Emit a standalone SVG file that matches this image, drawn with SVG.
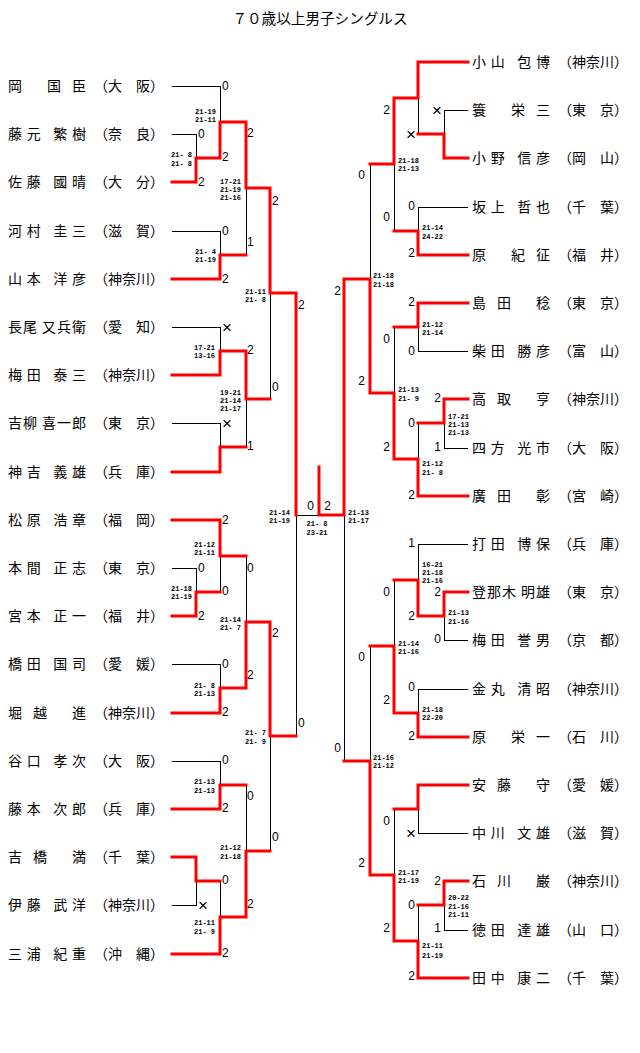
<svg xmlns="http://www.w3.org/2000/svg" width="640" height="1053" viewBox="0 0 640 1053">
<style>
.t{font-family:"Noto Sans CJK JP","Noto Sans CJK SC",sans-serif;font-size:14.6px;fill:#000}
.n{font-family:"Noto Sans CJK JP","Noto Sans CJK SC",sans-serif;font-size:14px;fill:#000}
.s{font-family:"Liberation Mono",monospace;font-size:7px;font-weight:bold;fill:#000}
.sl{text-anchor:end}
.g{font-family:"Liberation Sans",sans-serif;font-size:12px;fill:#000}
.ge{text-anchor:end}
.gm{text-anchor:middle}
.x{font-size:17px}
.b{stroke:#000;stroke-width:1;fill:none;shape-rendering:crispEdges}
.r{stroke:#ff0000;stroke-width:3;fill:none;stroke-linejoin:miter;stroke-linecap:square}
</style>
<rect width="640" height="1053" fill="#fff"/>
<text class="t" x="320" y="24" text-anchor="middle">７０歳以上男子シングルス</text>

<g id="connectors">
<g id="black-lines">
<path class="b" d="M172 86H220V122 M172 134H196V158 M172 231H220V255 M246 188V255 M172 327H220V351 M172 423H220V447 M246 399V447 M270 293V399 M172 568H196V592 M220 556V592 M172 664H220V688 M246 556V622 M172 761H220V785 M172 905H196V881 M220 881V917 M246 785V851 M270 736V851 M296 515V736 M296 515H344 M344 515V761"/>
<path class="b" d="M468 110H444V134 M418 98V134 M468 207H418V231 M394 164V231 M370 164V279 M468 351H418V327 M468 448H444V423 M418 423V459 M394 327V393 M468 544H418V580 M468 640H444V616 M468 689H418V713 M394 580V646 M370 646V761 M468 833H418V809 M468 930H444V905 M418 905V941 M394 809V875"/>
</g>
<g id="red-lines">
<path class="r" d="M172 182H196V158H220V122H246V188H270V293H296V515"/>
<path class="r" d="M172 279H220V255H246"/>
<path class="r" d="M172 375H220V351H246V399H270"/>
<path class="r" d="M172 472H220V447H246"/>
<path class="r" d="M172 520H220V556H246"/>
<path class="r" d="M172 616H196V592H220"/>
<path class="r" d="M172 713H220V688H246V622H270V736H296"/>
<path class="r" d="M172 809H220V785H246"/>
<path class="r" d="M172 857H196V881H220"/>
<path class="r" d="M172 954H220V917H246V851H270"/>
<path class="r" d="M468 62H418V98H394V164H370"/>
<path class="r" d="M468 158H444V134H418"/>
<path class="r" d="M468 255H418V231H394"/>
<path class="r" d="M468 303H418V327H394"/>
<path class="r" d="M468 399H444V423H418"/>
<path class="r" d="M468 496H418V459H394V393H370V279H344V515H319V467"/>
<path class="r" d="M468 592H444V616H418V580H394"/>
<path class="r" d="M468 737H418V713H394V646H370"/>
<path class="r" d="M468 785H418V809H394"/>
<path class="r" d="M468 881H444V905H418"/>
<path class="r" d="M468 978H418V941H394V875H370V761H344"/>
</g>
<g id="game-counts">
<text class="g" x="222" y="90">0</text>
<text class="g" x="198" y="138">0</text>
<text class="g" x="198" y="186">2</text>
<text class="g" x="222" y="161">2</text>
<text class="g" x="247" y="137">2</text>
<text class="g" x="222" y="235">0</text>
<text class="g" x="222" y="283">2</text>
<text class="g" x="247" y="246">1</text>
<text class="g" x="272" y="205">2</text>
<text class="g x" x="222" y="333">×</text>
<text class="g" x="247" y="354">2</text>
<text class="g x" x="222" y="429">×</text>
<text class="g" x="247" y="450">1</text>
<text class="g" x="272" y="391">0</text>
<text class="g" x="298" y="309">2</text>
<text class="g" x="222" y="524">2</text>
<text class="g" x="198" y="572">0</text>
<text class="g" x="198" y="620">2</text>
<text class="g" x="222" y="595">0</text>
<text class="g" x="247" y="572">0</text>
<text class="g" x="222" y="668">0</text>
<text class="g" x="222" y="716">2</text>
<text class="g" x="247" y="679">2</text>
<text class="g" x="272" y="637">2</text>
<text class="g" x="298" y="727">0</text>
<text class="g" x="222" y="764">0</text>
<text class="g" x="222" y="812">2</text>
<text class="g" x="247" y="800">0</text>
<text class="g" x="272" y="841">0</text>
<text class="g" x="222" y="884">0</text>
<text class="g x" x="198" y="911">×</text>
<text class="g" x="222" y="957">2</text>
<text class="g" x="247" y="908">2</text>
<text class="g gm" x="310.5" y="510">0</text>
<text class="g gm" x="327.5" y="510">2</text>
<text class="g ge x" x="442" y="116">×</text>
<text class="g ge x" x="416" y="140">×</text>
<text class="g ge" x="390" y="114">2</text>
<text class="g ge" x="415" y="210">0</text>
<text class="g ge" x="415" y="257">2</text>
<text class="g ge" x="390" y="221">0</text>
<text class="g ge" x="365" y="179">0</text>
<text class="g ge" x="415" y="306">2</text>
<text class="g ge" x="415" y="355">0</text>
<text class="g ge" x="390" y="343">0</text>
<text class="g ge" x="441" y="402">2</text>
<text class="g ge" x="441" y="451">1</text>
<text class="g ge" x="415" y="427">0</text>
<text class="g ge" x="415" y="499">2</text>
<text class="g ge" x="390" y="451">2</text>
<text class="g ge" x="365" y="385">2</text>
<text class="g ge" x="341" y="295">2</text>
<text class="g ge" x="415" y="547">1</text>
<text class="g ge" x="441" y="596">2</text>
<text class="g ge" x="441" y="643">0</text>
<text class="g ge" x="415" y="620">2</text>
<text class="g ge" x="390" y="596">0</text>
<text class="g ge" x="415" y="691">0</text>
<text class="g ge" x="415" y="740">2</text>
<text class="g ge" x="390" y="704">2</text>
<text class="g ge" x="365" y="661">0</text>
<text class="g ge" x="341" y="752">0</text>
<text class="g ge" x="390" y="825">0</text>
<text class="g ge x" x="416" y="839">×</text>
<text class="g ge" x="441" y="885">2</text>
<text class="g ge" x="441" y="932">1</text>
<text class="g ge" x="415" y="909">0</text>
<text class="g ge" x="415" y="980">2</text>
<text class="g ge" x="390" y="932">2</text>
<text class="g ge" x="365" y="867">2</text>
</g>
<g id="scores">
<text class="s sl" x="192" y="156.5">21- 8</text><text class="s sl" x="192" y="165.5">21- 8</text>
<text class="s sl" x="216" y="113.5">21-19</text><text class="s sl" x="216" y="121.5">21-11</text>
<text class="s sl" x="216" y="253.5">21- 4</text><text class="s sl" x="216" y="261.5">21-19</text>
<text class="s sl" x="241" y="183.5">17-21</text><text class="s sl" x="241" y="191.5">21-19</text><text class="s sl" x="241" y="199.5">21-16</text>
<text class="s sl" x="266" y="293.5">21-11</text><text class="s sl" x="266" y="301.5">21- 8</text>
<text class="s sl" x="215" y="349.5">17-21</text><text class="s sl" x="215" y="358">13-16</text>
<text class="s sl" x="241" y="394.5">19-21</text><text class="s sl" x="241" y="402.5">21-14</text><text class="s sl" x="241" y="410.5">21-17</text>
<text class="s sl" x="290" y="514.5">21-14</text><text class="s sl" x="290" y="522.5">21-19</text>
<text class="s sl" x="215" y="546.5">21-12</text><text class="s sl" x="215" y="554.5">21-11</text>
<text class="s sl" x="192" y="590.5">21-18</text><text class="s sl" x="192" y="599">21-19</text>
<text class="s sl" x="215" y="687.5">21- 8</text><text class="s sl" x="215" y="695.5">21-13</text>
<text class="s sl" x="241" y="621.5">21-14</text><text class="s sl" x="241" y="629.5">21- 7</text>
<text class="s sl" x="266" y="734.5">21- 7</text><text class="s sl" x="266" y="743.5">21- 9</text>
<text class="s sl" x="215" y="783.5">21-13</text><text class="s sl" x="215" y="792.5">21-13</text>
<text class="s sl" x="241" y="849.5">21-12</text><text class="s sl" x="241" y="858.5">21-18</text>
<text class="s sl" x="215" y="924.5">21-11</text><text class="s sl" x="215" y="933.5">21- 9</text>
<text class="s" x="317" y="525.5" text-anchor="middle">21- 8</text><text class="s" x="317" y="534.5" text-anchor="middle">23-21</text>
<text class="s" x="398" y="162.5">21-18</text><text class="s" x="398" y="170.5">21-13</text>
<text class="s" x="422" y="229.5">21-14</text><text class="s" x="422" y="238.5">24-22</text>
<text class="s" x="373" y="277.5">21-18</text><text class="s" x="373" y="286.5">21-18</text>
<text class="s" x="422" y="326.5">21-12</text><text class="s" x="422" y="334.5">21-14</text>
<text class="s" x="398" y="391.5">21-13</text><text class="s" x="398" y="400.5">21- 9</text>
<text class="s" x="448" y="418.5">17-21</text><text class="s" x="448" y="426.5">21-13</text><text class="s" x="448" y="434.5">21-13</text>
<text class="s" x="422" y="465.5">21-12</text><text class="s" x="422" y="474.5">21- 8</text>
<text class="s" x="348" y="514.5">21-13</text><text class="s" x="348" y="522.5">21-17</text>
<text class="s" x="422" y="566.5">16-21</text><text class="s" x="422" y="574.5">21-18</text><text class="s" x="422" y="583">21-16</text>
<text class="s" x="448" y="614.5">21-13</text><text class="s" x="448" y="623.5">21-16</text>
<text class="s" x="398" y="645.5">21-14</text><text class="s" x="398" y="653.5">21-16</text>
<text class="s" x="422" y="711.5">21-18</text><text class="s" x="422" y="719.5">22-20</text>
<text class="s" x="373" y="759.5">21-16</text><text class="s" x="373" y="768">21-12</text>
<text class="s" x="398" y="874.5">21-17</text><text class="s" x="398" y="882.5">21-19</text>
<text class="s" x="448" y="900">20-22</text><text class="s" x="448" y="908.5">21-16</text><text class="s" x="448" y="916.5">21-11</text>
<text class="s" x="422" y="948">21-11</text><text class="s" x="422" y="957.5">21-19</text>
</g>
</g>

<g id="players-left">
<g id="L0"><text class="n" x="8" y="91" textLength="78" lengthAdjust="spacing">岡 国臣</text><text class="n" x="94" y="91">（大　阪）</text></g>
<g id="L1"><text class="n" x="8" y="139" textLength="78" lengthAdjust="spacing">藤元 繁樹</text><text class="n" x="94" y="139">（奈　良）</text></g>
<g id="L2"><text class="n" x="8" y="187" textLength="78" lengthAdjust="spacing">佐藤 國晴</text><text class="n" x="94" y="187">（大　分）</text></g>
<g id="L3"><text class="n" x="8" y="236" textLength="78" lengthAdjust="spacing">河村 圭三</text><text class="n" x="94" y="236">（滋　賀）</text></g>
<g id="L4"><text class="n" x="8" y="284" textLength="78" lengthAdjust="spacing">山本 洋彦</text><text class="n" x="94" y="284">（神奈川）</text></g>
<g id="L5"><text class="n" x="8" y="332" textLength="78" lengthAdjust="spacing">長尾 又兵衛</text><text class="n" x="94" y="332">（愛　知）</text></g>
<g id="L6"><text class="n" x="8" y="380" textLength="78" lengthAdjust="spacing">梅田 泰三</text><text class="n" x="94" y="380">（神奈川）</text></g>
<g id="L7"><text class="n" x="8" y="428" textLength="78" lengthAdjust="spacing">吉柳 喜一郎</text><text class="n" x="94" y="428">（東　京）</text></g>
<g id="L8"><text class="n" x="8" y="477" textLength="78" lengthAdjust="spacing">神吉 義雄</text><text class="n" x="94" y="477">（兵　庫）</text></g>
<g id="L9"><text class="n" x="8" y="525" textLength="78" lengthAdjust="spacing">松原 浩章</text><text class="n" x="94" y="525">（福　岡）</text></g>
<g id="L10"><text class="n" x="8" y="573" textLength="78" lengthAdjust="spacing">本間 正志</text><text class="n" x="94" y="573">（東　京）</text></g>
<g id="L11"><text class="n" x="8" y="621" textLength="78" lengthAdjust="spacing">宮本 正一</text><text class="n" x="94" y="621">（福　井）</text></g>
<g id="L12"><text class="n" x="8" y="669" textLength="78" lengthAdjust="spacing">橋田 国司</text><text class="n" x="94" y="669">（愛　媛）</text></g>
<g id="L13"><text class="n" x="8" y="718" textLength="78" lengthAdjust="spacing">堀越 進</text><text class="n" x="94" y="718">（神奈川）</text></g>
<g id="L14"><text class="n" x="8" y="766" textLength="78" lengthAdjust="spacing">谷口 孝次</text><text class="n" x="94" y="766">（大　阪）</text></g>
<g id="L15"><text class="n" x="8" y="814" textLength="78" lengthAdjust="spacing">藤本 次郎</text><text class="n" x="94" y="814">（兵　庫）</text></g>
<g id="L16"><text class="n" x="8" y="862" textLength="78" lengthAdjust="spacing">吉橋 満</text><text class="n" x="94" y="862">（千　葉）</text></g>
<g id="L17"><text class="n" x="8" y="910" textLength="78" lengthAdjust="spacing">伊藤 武洋</text><text class="n" x="94" y="910">（神奈川）</text></g>
<g id="L18"><text class="n" x="8" y="959" textLength="78" lengthAdjust="spacing">三浦 紀重</text><text class="n" x="94" y="959">（沖　縄）</text></g>
</g>

<g id="players-right">
<g id="R0"><text class="n" x="472" y="67" textLength="78" lengthAdjust="spacing">小山 包博</text><text class="n" x="558" y="67">（神奈川）</text></g>
<g id="R1"><text class="n" x="472" y="115" textLength="78" lengthAdjust="spacing">簑 栄三</text><text class="n" x="558" y="115">（東　京）</text></g>
<g id="R2"><text class="n" x="472" y="163" textLength="78" lengthAdjust="spacing">小野 信彦</text><text class="n" x="558" y="163">（岡　山）</text></g>
<g id="R3"><text class="n" x="472" y="212" textLength="78" lengthAdjust="spacing">坂上 哲也</text><text class="n" x="558" y="212">（千　葉）</text></g>
<g id="R4"><text class="n" x="472" y="260" textLength="78" lengthAdjust="spacing">原 紀征</text><text class="n" x="558" y="260">（福　井）</text></g>
<g id="R5"><text class="n" x="472" y="308" textLength="78" lengthAdjust="spacing">島田 稔</text><text class="n" x="558" y="308">（東　京）</text></g>
<g id="R6"><text class="n" x="472" y="356" textLength="78" lengthAdjust="spacing">柴田 勝彦</text><text class="n" x="558" y="356">（富　山）</text></g>
<g id="R7"><text class="n" x="472" y="404" textLength="78" lengthAdjust="spacing">高取 亨</text><text class="n" x="558" y="404">（神奈川）</text></g>
<g id="R8"><text class="n" x="472" y="453" textLength="78" lengthAdjust="spacing">四方 光市</text><text class="n" x="558" y="453">（大　阪）</text></g>
<g id="R9"><text class="n" x="472" y="501" textLength="78" lengthAdjust="spacing">廣田 彰</text><text class="n" x="558" y="501">（宮　崎）</text></g>
<g id="R10"><text class="n" x="472" y="549" textLength="78" lengthAdjust="spacing">打田 博保</text><text class="n" x="558" y="549">（兵　庫）</text></g>
<g id="R11"><text class="n" x="472" y="597" textLength="78" lengthAdjust="spacing">登那木 明雄</text><text class="n" x="558" y="597">（東　京）</text></g>
<g id="R12"><text class="n" x="472" y="645" textLength="78" lengthAdjust="spacing">梅田 誉男</text><text class="n" x="558" y="645">（京　都）</text></g>
<g id="R13"><text class="n" x="472" y="694" textLength="78" lengthAdjust="spacing">金丸 清昭</text><text class="n" x="558" y="694">（神奈川）</text></g>
<g id="R14"><text class="n" x="472" y="742" textLength="78" lengthAdjust="spacing">原 栄一</text><text class="n" x="558" y="742">（石　川）</text></g>
<g id="R15"><text class="n" x="472" y="790" textLength="78" lengthAdjust="spacing">安藤 守</text><text class="n" x="558" y="790">（愛　媛）</text></g>
<g id="R16"><text class="n" x="472" y="838" textLength="78" lengthAdjust="spacing">中川 文雄</text><text class="n" x="558" y="838">（滋　賀）</text></g>
<g id="R17"><text class="n" x="472" y="886" textLength="78" lengthAdjust="spacing">石川 巌</text><text class="n" x="558" y="886">（神奈川）</text></g>
<g id="R18"><text class="n" x="472" y="935" textLength="78" lengthAdjust="spacing">徳田 達雄</text><text class="n" x="558" y="935">（山　口）</text></g>
<g id="R19"><text class="n" x="472" y="983" textLength="78" lengthAdjust="spacing">田中 康二</text><text class="n" x="558" y="983">（千　葉）</text></g>
</g>
</svg>
